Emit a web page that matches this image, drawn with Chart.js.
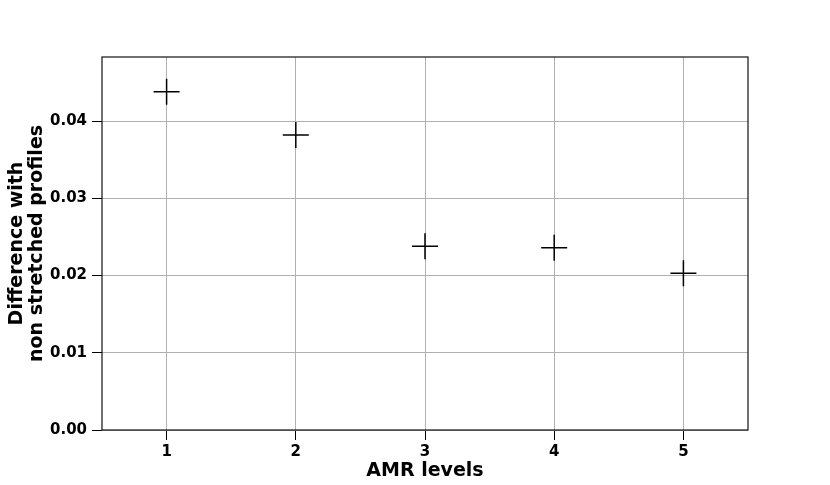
<!DOCTYPE html>
<html>
<head>
<meta charset="utf-8">
<script src="https://cdn.jsdelivr.net/npm/chart.js@4"></script>
<style>
  body { margin: 0; background: #fff; }
  canvas { display: block; }
</style>
</head>
<body>
<canvas id="grafico" width="830" height="485"></canvas>
<script>
// dados
const amrLevels = [1, 2, 3, 4, 5];
const differences = [0.0438, 0.0382, 0.0238, 0.0236, 0.0203];
const xTicks = [1, 2, 3, 4, 5];
const yTicks = [0, 0.01, 0.02, 0.03, 0.04];
const xTitle = 'AMR levels';
const yTitle = ['Difference with', 'non stretched profiles'];

const fonteTicks = { family: 'DejaVu Sans', weight: 'bold', size: 15 };
const fonteTitulo = { family: 'DejaVu Sans', weight: 'bold', size: 19, lineHeight: 1.05 };

// moldura completa em volta da área do gráfico
const moldura = {
    id: 'moldura',
    afterDraw(chart) {
        const a = chart.chartArea;
        const ctx = chart.ctx;
        ctx.save();
        ctx.strokeStyle = '#111';
        ctx.lineWidth = 1.2;
        ctx.strokeRect(a.left, a.top, a.right - a.left, a.bottom - a.top);
        ctx.restore();
    }
};

new Chart(document.getElementById('grafico'), {
    type: 'scatter',
    data: {
        datasets: [{
            data: amrLevels.map((x, i) => ({ x: x, y: differences[i] })),
            pointStyle: 'cross',
            radius: 13,
            borderColor: '#000',
            borderWidth: 1.5
        }]
    },
    options: {
        responsive: false,
        animation: false,
        devicePixelRatio: 1,
        layout: { padding: { top: 57, right: 82, bottom: 0, left: 0 } },
        plugins: { legend: { display: false }, tooltip: { enabled: false } },
        scales: {
            x: {
                type: 'linear',
                min: 0.5,
                max: 5.5,
                afterBuildTicks: s => { s.ticks = xTicks.map(v => ({ value: v })); },
                afterFit: s => { s.height = 55; },
                grid: { color: '#b0b0b0', tickColor: '#000', tickLength: 10, lineWidth: 1 },
                border: { display: false },
                ticks: { color: '#000', font: fonteTicks, padding: 3, maxRotation: 0 },
                title: { display: true, text: xTitle, color: '#000', font: fonteTitulo, padding: { top: 0, bottom: 4 } }
            },
            y: {
                min: 0,
                max: 0.0483,
                afterBuildTicks: s => { s.ticks = yTicks.map(v => ({ value: v })); },
                afterFit: s => { s.width = 102; },
                grid: { color: '#b0b0b0', tickColor: '#000', tickLength: 10, lineWidth: 1 },
                border: { display: false },
                ticks: { color: '#000', font: fonteTicks, padding: 5, callback: v => v.toFixed(2) },
                title: { display: true, text: yTitle, color: '#000', font: fonteTitulo, padding: { top: 7, bottom: 0 } }
            }
        }
    },
    plugins: [moldura]
});
</script>
</body>
</html>
